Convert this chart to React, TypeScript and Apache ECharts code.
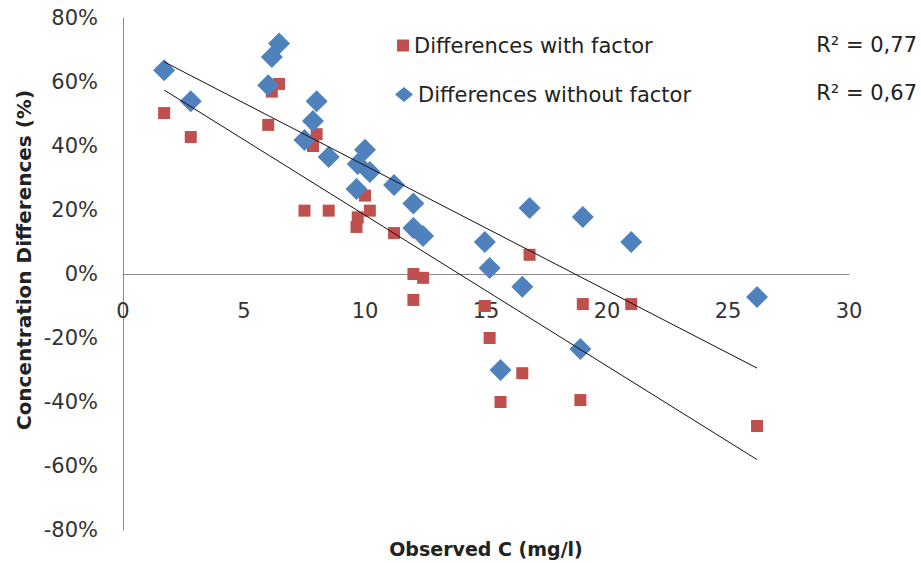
import React, { useEffect, useRef } from "react";
import * as echarts from "echarts";

// Observed concentration (mg/l)
const observedC = [1.7, 2.8, 6.0, 6.15, 6.45, 7.5, 7.85, 8.0, 8.5, 9.65, 9.7, 10.0, 10.2, 11.2, 12.0, 12.0, 12.4, 14.95, 15.15, 15.6, 16.5, 16.8, 18.9, 19.0, 21.0, 26.2];
// Concentration differences (%)
const diffWithFactor = [50.3, 42.8, 46.6, 57, 59.4, 19.8, 40, 43.7, 19.8, 14.7, 17.7, 24.5, 19.8, 12.8, 0, -8.1, -1.2, -10, -20, -40, -31, 6, -39.4, -9.4, -9.4, -47.5];
const diffWithoutFactor = [63.7, 54, 59, 67.8, 72, 41.9, 47.8, 54, 36.6, 26.6, 34.4, 38.8, 31.9, 27.8, 22, 14.4, 11.9, 10, 1.9, -30, -4, 20.6, -23.4, 17.8, 10, -7.2];
// Linear trend lines (endpoints)
const trendX = [1.7, 26.2];
const trendWithFactor = [57.5, -58];
const trendWithoutFactor = [66.3, -29.4];
const seriesNames = ["Differences with factor", "Differences without factor"];
const rSquared = ["0,77", "0,67"];
const yTicks = { min: -80, max: 80, step: 20 };
const xTicks = { min: 0, max: 30, step: 5 };

const FONT = "DejaVu Sans";
const GRID = { left: 123, right: 72, top: 18, bottom: 33 };
const H = 563;

export default function App() {
  const ref = useRef<HTMLDivElement>(null);
  useEffect(() => {
    if (!ref.current) return;
    const chart = echarts.init(ref.current, null, { renderer: "svg" });
    const pts = (ys: number[]) => observedC.map((x, i) => [x, ys[i]]);
    const trend = (ys: number[]) => trendX.map((x, i) => [x, ys[i]]);
    // place the x axis at y = 0 (as in the reference) via an offset from the grid bottom
    const plotH = H - GRID.top - GRID.bottom;
    const zeroOffset = -plotH * (0 - yTicks.min) / (yTicks.max - yTicks.min);
    chart.setOption({
      animation: false,
      backgroundColor: "#ffffff",
      grid: { ...GRID, outerBoundsMode: "none", containLabel: false },
      xAxis: {
        type: "value",
        min: xTicks.min,
        max: xTicks.max,
        interval: xTicks.step,
        position: "bottom",
        offset: zeroOffset,
        axisLine: { show: true, onZero: false, lineStyle: { color: "#8a8a8a", width: 1 } },
        axisTick: { show: false },
        splitLine: { show: false },
        axisLabel: { margin: 26, color: "#333", fontFamily: FONT, fontSize: 21 },
      },
      yAxis: {
        type: "value",
        min: yTicks.min,
        max: yTicks.max,
        interval: yTicks.step,
        axisLine: { show: true, onZero: false, lineStyle: { color: "#8a8a8a", width: 1 } },
        axisTick: { show: false },
        splitLine: { show: false },
        axisLabel: { margin: 25, color: "#333", fontFamily: FONT, fontSize: 21, formatter: "{value}%" },
      },
      legend: [
        {
          data: [{ name: seriesNames[0], icon: "rect" }],
          left: 397,
          top: 35,
          padding: 0,
          itemWidth: 12,
          itemHeight: 12,
          itemTextGap: 9,
          textStyle: { fontFamily: FONT, fontSize: 21, color: "#222" },
        },
        {
          data: [{ name: seriesNames[1], icon: "diamond" }],
          left: 395,
          top: 84,
          padding: 0,
          itemWidth: 18,
          itemHeight: 15,
          itemTextGap: 5,
          textStyle: { fontFamily: FONT, fontSize: 21, color: "#222" },
        },
      ],
      graphic: [
        {
          type: "text",
          x: 917,
          y: 45,
          style: { text: "R² = " + rSquared[0], textAlign: "right", textVerticalAlign: "middle", font: `21px "${FONT}"`, fill: "#222" },
        },
        {
          type: "text",
          x: 917,
          y: 93,
          style: { text: "R² = " + rSquared[1], textAlign: "right", textVerticalAlign: "middle", font: `21px "${FONT}"`, fill: "#222" },
        },
        {
          type: "text",
          x: 24,
          y: 260,
          rotation: Math.PI / 2,
          style: { text: "Concentration Differences (%)", textAlign: "center", textVerticalAlign: "middle", font: `bold 20px "${FONT}"`, fill: "#222" },
        },
        {
          type: "text",
          x: 486,
          y: 549,
          style: { text: "Observed C (mg/l)", textAlign: "center", textVerticalAlign: "middle", font: `bold 19px "${FONT}"`, fill: "#222" },
        },
      ],
      series: [
        {
          name: seriesNames[0],
          type: "scatter",
          symbol: "rect",
          symbolSize: 12,
          itemStyle: { color: "#C0504D", opacity: 1 },
          data: pts(diffWithFactor),
          z: 2,
        },
        {
          name: seriesNames[1],
          type: "scatter",
          symbol: "diamond",
          symbolSize: 22,
          itemStyle: { color: "#4F81BD", opacity: 1 },
          data: pts(diffWithoutFactor),
          z: 2,
        },
        {
          name: "trend with",
          type: "line",
          data: trend(trendWithFactor),
          symbol: "none",
          lineStyle: { color: "#111", width: 1 },
          z: 5,
        },
        {
          name: "trend without",
          type: "line",
          data: trend(trendWithoutFactor),
          symbol: "none",
          lineStyle: { color: "#111", width: 1 },
          z: 5,
        },
      ],
    });
    return () => chart.dispose();
  }, []);
  return <div ref={ref} style={{ position: "fixed", left: 0, top: 0, width: 921, height: 563 }} />;
}
